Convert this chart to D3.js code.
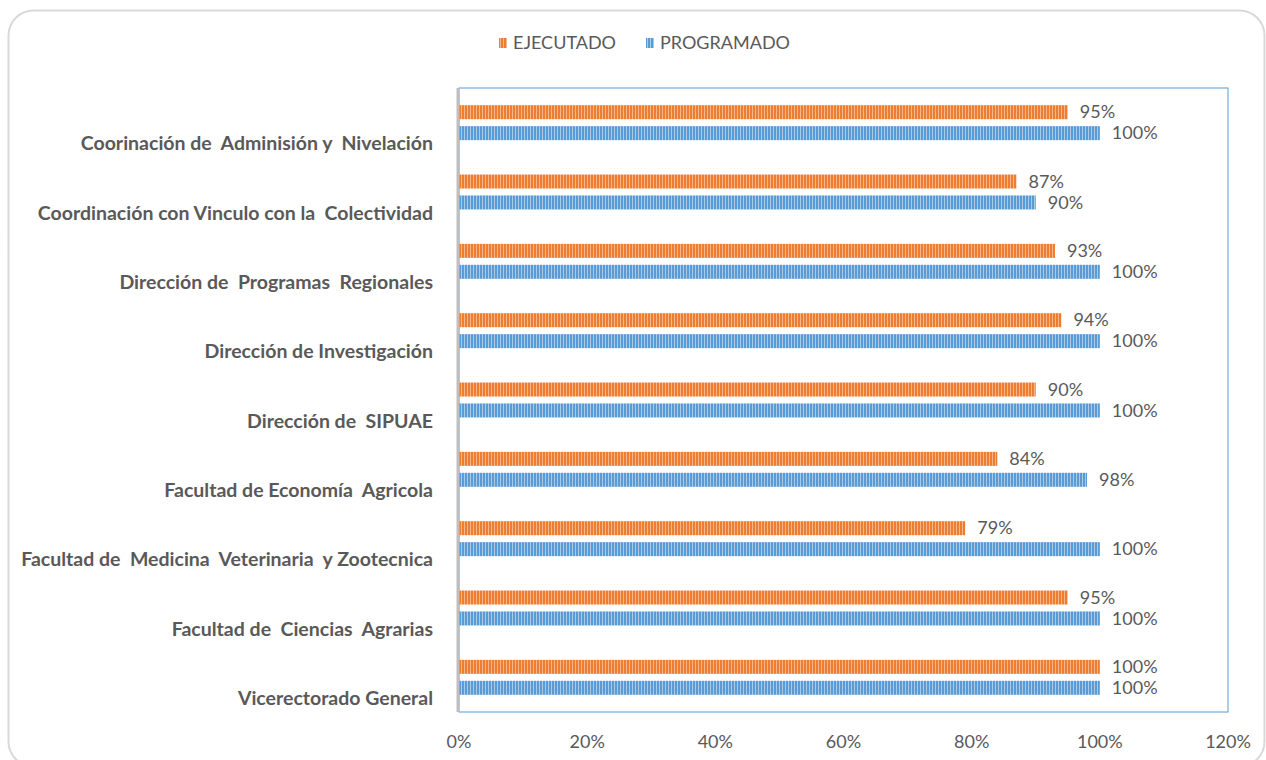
<html>
<head>
<meta charset="utf-8">
<title>Ejecutado vs Programado</title>
<script src="https://cdnjs.cloudflare.com/ajax/libs/d3/7.8.5/d3.min.js"></script>
<style>
body {
  margin: 0;
  background: #fff;
}
svg text {
  font-family: Lato, "Open Sans", sans-serif;
  fill: #595959;
}
.cat text {
  font-weight: bold;
  font-size: 19.5px;
}
.vals text, .ticks text, .legend text {
  font-size: 18px;
}
</style>
</head>
<body>
<div class="target"></div>
<script>
// categories, top to bottom as shown
var categories = [
  "Coorinación de  Adminisión y  Nivelación",
  "Coordinación con Vinculo con la  Colectividad",
  "Dirección de  Programas  Regionales",
  "Dirección de Investigación",
  "Dirección de  SIPUAE",
  "Facultad de Economía  Agricola",
  "Facultad de  Medicina  Veterinaria  y Zootecnica",
  "Facultad de  Ciencias  Agrarias",
  "Vicerectorado General"
];
var ejecutado  = [0.95, 0.87, 0.93, 0.94, 0.90, 0.84, 0.79, 0.95, 1.00];
var programado = [1.00, 0.90, 1.00, 1.00, 1.00, 0.98, 1.00, 1.00, 1.00];
var seriesNames = ["EJECUTADO", "PROGRAMADO"];
var xTicks = [0, 0.2, 0.4, 0.6, 0.8, 1.0, 1.2];

var colors = {EJECUTADO: ["#ED7D31", "#F6B68A"], PROGRAMADO: ["#5B9BD5", "#A9CBEA"]};

var width = 1266, height = 760;
var plot = {left: 459, right: 1228, top: 88, bottom: 712};

var svg = d3.select(".target").append("svg")
  .attr("width", width)
  .attr("height", height);

// striped fills
var defs = svg.append("defs");
seriesNames.forEach(function(s, i) {
  var p = defs.append("pattern")
    .attr("id", "pat" + i)
    .attr("patternUnits", "userSpaceOnUse")
    .attr("width", 3).attr("height", 10);
  p.append("rect").attr("width", 3).attr("height", 10).attr("fill", colors[s][0]);
  p.append("rect").attr("x", 2).attr("width", 1).attr("height", 10).attr("fill", colors[s][1]);
});

// chart frame (bottom edge runs off the page)
svg.append("rect")
  .attr("x", 8.5).attr("y", 10.5)
  .attr("width", 1256).attr("height", 756)
  .attr("rx", 25)
  .attr("fill", "#fff")
  .attr("stroke", "#d9d9d9")
  .attr("stroke-width", 2);

var x = d3.scaleLinear().domain([0, 1.2]).range([plot.left, plot.right]);
var y = d3.scaleBand().domain(categories).range([plot.top, plot.bottom]);
var ySub = d3.scaleBand().domain(seriesNames).range([0, y.bandwidth()])
  .paddingInner(0.33).paddingOuter(0.82);

var rows = categories.map(function(c, i) {
  return {cat: c, vals: [
    {s: "EJECUTADO", idx: 0, v: ejecutado[i]},
    {s: "PROGRAMADO", idx: 1, v: programado[i]}
  ]};
});

// plot area border
svg.append("rect")
  .attr("x", plot.left).attr("y", plot.top)
  .attr("width", plot.right - plot.left).attr("height", plot.bottom - plot.top)
  .attr("fill", "none")
  .attr("stroke", "#5B9BD5")
  .attr("stroke-width", 1);

var groups = svg.append("g").selectAll("g")
  .data(rows)
  .enter().append("g")
    .attr("transform", function(d) { return "translate(0," + y(d.cat) + ")"; });

groups.selectAll("rect")
  .data(function(d) { return d.vals; })
  .enter().append("rect")
    .attr("x", x(0))
    .attr("y", function(d) { return ySub(d.s); })
    .attr("width", function(d) { return x(d.v) - x(0); })
    .attr("height", ySub.bandwidth())
    .attr("fill", function(d) { return "url(#pat" + d.idx + ")"; });

groups.append("g").attr("class", "vals").selectAll("text")
  .data(function(d) { return d.vals; })
  .enter().append("text")
    .attr("x", function(d) { return x(d.v) + 12; })
    .attr("y", function(d) { return ySub(d.s) + ySub.bandwidth() / 2; })
    .attr("dy", "0.35em")
    .text(function(d) { return Math.round(d.v * 100) + "%"; });

// left axis line
svg.append("line")
  .attr("x1", plot.left - 1).attr("x2", plot.left - 1)
  .attr("y1", plot.top).attr("y2", plot.bottom)
  .attr("stroke", "#bfbfbf")
  .attr("stroke-width", 3);

// category labels (sit a bit below the band centre, like the original)
svg.append("g").attr("class", "cat").selectAll("text")
  .data(categories)
  .enter().append("text")
    .attr("x", 433)
    .attr("y", function(d) { return y(d) + y.bandwidth() / 2 + 21; })
    .attr("dy", "0.35em")
    .attr("text-anchor", "end")
    .style("white-space", "pre")
    .attr("xml:space", "preserve")
    .text(function(d) { return d; });

// x tick labels
svg.append("g").attr("class", "ticks").selectAll("text")
  .data(xTicks)
  .enter().append("text")
    .attr("x", function(d) { return x(d); })
    .attr("y", 742)
    .attr("dy", "0.35em")
    .attr("text-anchor", "middle")
    .text(function(d) { return d3.format(".0%")(d); });

// legend
var legend = svg.append("g").attr("class", "legend");
var legX = [499, 646];
seriesNames.forEach(function(s, i) {
  legend.append("rect")
    .attr("x", legX[i]).attr("y", 38)
    .attr("width", 8).attr("height", 10)
    .attr("fill", "url(#pat" + i + ")");
  legend.append("text")
    .attr("x", legX[i] + 14).attr("y", 43)
    .attr("dy", "0.35em")
    .text(s);
});
</script>
</body>
</html>
